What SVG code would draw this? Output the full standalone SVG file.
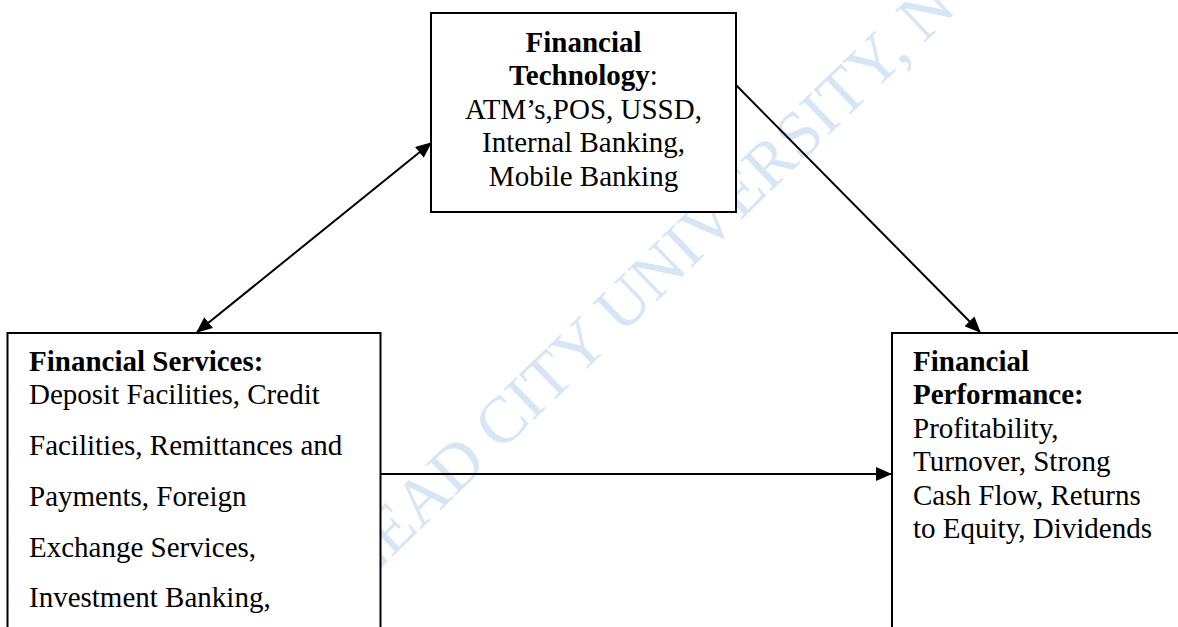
<svg xmlns="http://www.w3.org/2000/svg" width="1178" height="627" viewBox="0 0 1178 627">
  <style>
    .box { fill: #ffffff; stroke: #000000; stroke-width: 2; }
    .t { font-family: "Liberation Serif", "Times New Roman", serif; font-size: 29px; fill: #000000; }
    .b { font-weight: bold; }
    .c { text-anchor: middle; }
    .link { fill: none; stroke: #000000; stroke-width: 2; }
    .wm { font-family: "Liberation Serif", "Times New Roman", serif; font-size: 66px; fill: #d6e6f5; }
  </style>
  <defs>
    <marker id="arrow" markerUnits="userSpaceOnUse" markerWidth="16" markerHeight="14" viewBox="0 0 16 14" refX="15" refY="7" orient="auto-start-reverse">
      <path d="M0,0 L16,7 L0,14 Z" fill="#000000"/>
    </marker>
  </defs>

  <rect width="1178" height="627" fill="#ffffff"/>

  <text class="wm" transform="translate(362,586) rotate(-44)">LEAD CITY UNIVERSITY, N</text>

  <g id="connectors">
    <line class="link" x1="197" y1="332" x2="431" y2="143" marker-start="url(#arrow)" marker-end="url(#arrow)"/>
    <line class="link" x1="736" y1="85" x2="980" y2="332" marker-end="url(#arrow)"/>
    <line class="link" x1="380" y1="474" x2="891" y2="474" marker-end="url(#arrow)"/>
  </g>

  <g id="node-technology">
    <rect class="box" x="431" y="13" width="305" height="199"/>
    <text class="t c" x="583.5" y="51.5"><tspan class="b">Financial</tspan></text>
    <text class="t c" x="583.5" y="85"><tspan class="b">Technology</tspan>:</text>
    <text class="t c" x="583.5" y="118.5">ATM’s,POS, USSD,</text>
    <text class="t c" x="583.5" y="152">Internal Banking,</text>
    <text class="t c" x="583.5" y="185.5">Mobile Banking</text>
  </g>

  <g id="node-services">
    <rect class="box" x="7.5" y="333" width="373" height="310"/>
    <text class="t b" x="29" y="371">Financial Services:</text>
    <text class="t" x="29" y="404">Deposit Facilities, Credit</text>
    <text class="t" x="29" y="455">Facilities, Remittances and</text>
    <text class="t" x="29" y="505.5">Payments, Foreign</text>
    <text class="t" x="29" y="556.5">Exchange Services,</text>
    <text class="t" x="29" y="607">Investment Banking,</text>
  </g>

  <g id="node-performance">
    <rect class="box" x="892" y="333" width="300" height="310"/>
    <text class="t b" x="913" y="371">Financial</text>
    <text class="t b" x="913" y="404">Performance:</text>
    <text class="t" x="913" y="437.5">Profitability,</text>
    <text class="t" x="913" y="471">Turnover, Strong</text>
    <text class="t" x="913" y="504.5">Cash Flow, Returns</text>
    <text class="t" x="913" y="538">to Equity, Dividends</text>
  </g>
</svg>
